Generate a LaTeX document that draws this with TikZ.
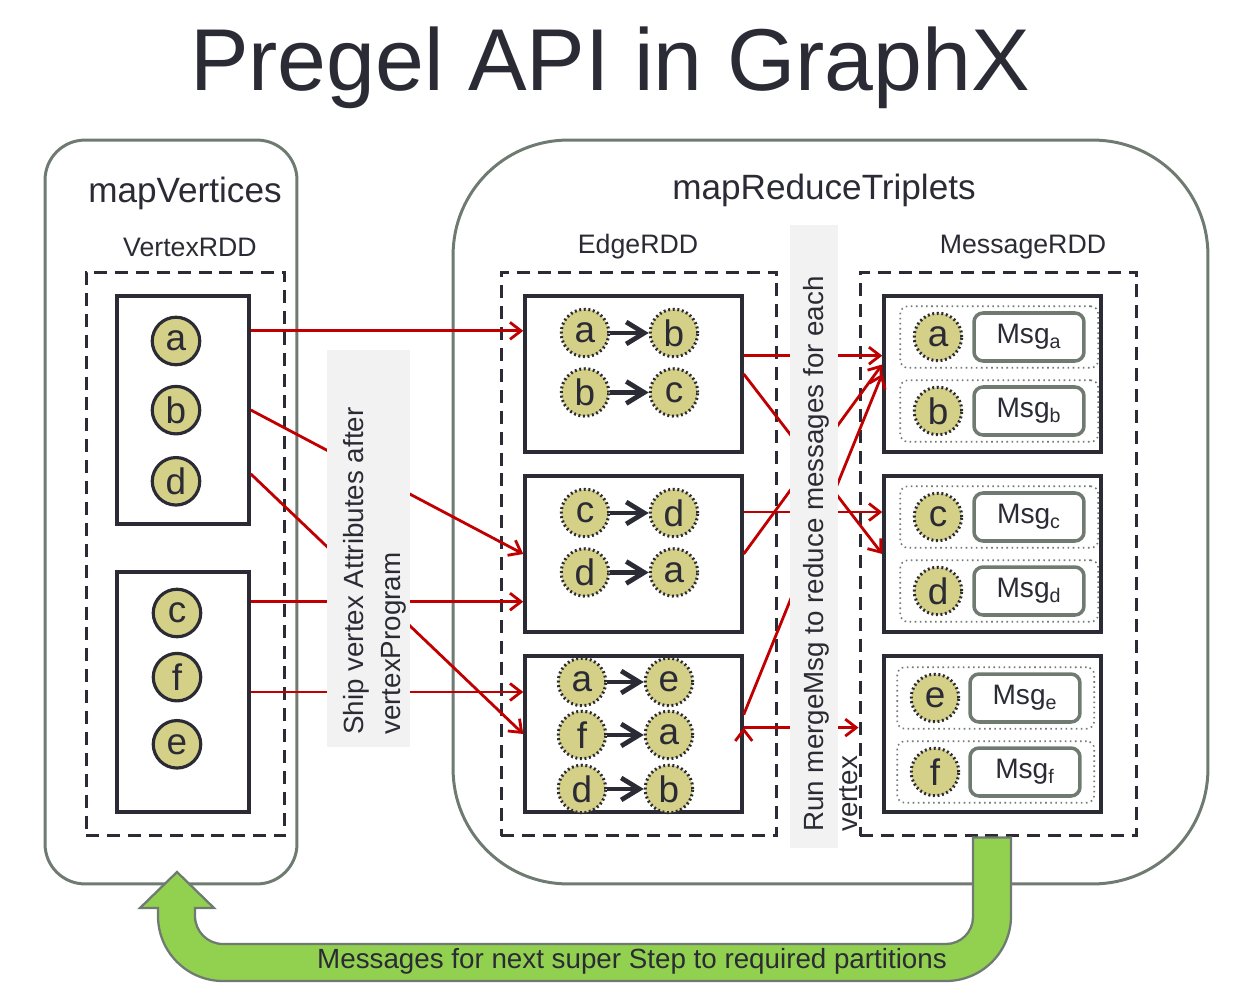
\documentclass[tikz,border=0pt]{standalone}
\usepackage{fontspec}
\setmainfont{Liberation Sans}
\usepackage{xcolor}
\usetikzlibrary{positioning, arrows.meta, calc, fit}

\definecolor{ink}{RGB}{43,43,53}
\definecolor{khaki}{RGB}{212,208,136}
\definecolor{frame}{RGB}{111,123,113}
\definecolor{shipred}{RGB}{192,0,0}
\definecolor{lblgray}{RGB}{242,242,242}
\definecolor{loopgreen}{RGB}{146,208,80}

\tikzset{
  stage/.style={draw=frame, line width=1.7pt, minimum height=14.88cm},
  rdd/.style={draw=ink, line width=1.7pt, dash pattern=on 7.4pt off 4.5pt, minimum height=11.28cm},
  part/.style={draw=ink, line width=2pt, fill=white, minimum width=4.34cm, minimum height=3.12cm},
  vtx/.style={circle, draw=ink, line width=1.8pt, fill=khaki, minimum size=0.95cm, inner sep=0pt, text=ink, font=\fontsize{21}{21}\selectfont},
  dvtx/.style={vtx, line width=1.7pt, dash pattern=on 1.1pt off 1.5pt},
  msg/.style={draw=frame, line width=2pt, rounded corners=0.18cm, minimum width=2.2cm, minimum height=0.96cm, text=ink, font=\fontsize{16}{16}\selectfont},
  msgrow/.style={draw=frame, line width=0.9pt, dotted, rounded corners=0.15cm, inner xsep=0.25cm, inner ysep=0.1cm},
  stagelabel/.style={text=ink, font=\fontsize{20}{24}\selectfont},
  rddlabel/.style={text=ink, font=\fontsize{15.2}{18}\selectfont},
  ship/.style={draw=shipred, line width=1.6pt, -{Straight Barb[length=0.22cm,width=0.34cm]}},
  pair/.style={draw=ink, line width=2.7pt, -{Straight Barb[length=0.36cm,width=0.44cm]}},
  lblbg/.style={fill=lblgray, inner sep=0pt},
  lbl/.style={rotate=90, align=left, inner sep=0pt, text=ink, font=\fontsize{15.8}{21}\selectfont}
}

\begin{document}
\begin{tikzpicture}[x=0.02cm, y=-0.02cm]
\useasboundingbox (0,0) rectangle (1257,1003);

\node[text=ink, font=\fontsize{50}{60}\selectfont] (title) at (610,68) {Pregel API in GraphX};

\node[stage, rounded corners=0.8cm, minimum width=5.04cm] (mv) at (171,512) {};
\node[stage, rounded corners=2.3cm, minimum width=15.1cm] (mrt) at (830.5,512) {};
\node[stagelabel] (mvlabel) at (185,193) {mapVertices};
\node[stagelabel] (mrtlabel) at (824,190) {mapReduceTriplets};

\node[rdd, minimum width=3.98cm] (vrdd) at (185.5,554) {};
\node[rdd, minimum width=5.52cm] (erdd) at (639,554) {};
\node[rdd, minimum width=5.54cm] (mrdd) at (998.5,554) {};
\node[rddlabel] (vrddlabel) at (190,247) {VertexRDD};
\node[rddlabel] (erddlabel) at (638,247) {EdgeRDD};
\node[rddlabel] (mrddlabel) at (1023,247) {MessageRDD};

\node[part, minimum width=2.64cm, minimum height=4.56cm] (vb1) at (183,410) {};
\node[part, minimum width=2.64cm, minimum height=4.8cm] (vb2) at (183,692) {};
\node[part] (eb1) at (633.5,374) {};
\node[part] (eb2) at (633.5,554) {};
\node[part] (eb3) at (633.5,734) {};
\node[part] (mb1) at (992.5,374) {};
\node[part] (mb2) at (992.5,554) {};
\node[part] (mb3) at (992.5,734) {};

\node[vtx] (va) at (176,341) {a};
\node[vtx] (vb) [below=0.37cm of va] {b};
\node[vtx] (vd) [below=0.41cm of vb] {d};
\node[vtx] (vc) at (177,613) {c};
\node[vtx] (vf) [below=0.27cm of vc] {f};
\node[vtx] (ve) [below=0.33cm of vf] {e};

\node[dvtx] (e1a) at (585,333) {a};
\node[dvtx] (e1b) [right=0.77cm of e1a] {b};
\node[dvtx] (e2b) [below=0.18cm of e1a] {b};
\node[dvtx] (e2c) [right=0.77cm of e2b] {c};
\node[dvtx] (e3c) at (585,513) {c};
\node[dvtx] (e3d) [right=0.77cm of e3c] {d};
\node[dvtx] (e4d) [below=0.18cm of e3c] {d};
\node[dvtx] (e4a) [right=0.77cm of e4d] {a};
\node[dvtx] (e5a) at (582,682) {a};
\node[dvtx] (e5e) [right=0.73cm of e5a] {e};
\node[dvtx] (e6f) [below=0.05cm of e5a] {f};
\node[dvtx] (e6a) [right=0.73cm of e6f] {a};
\node[dvtx] (e7d) [below=0.07cm of e6f] {d};
\node[dvtx] (e7b) [right=0.73cm of e7d] {b};

\path[pair]
  (e1a) edge (e1b)
  (e2b) edge (e2c)
  (e3c) edge (e3d)
  (e4d) edge (e4a)
  (e5a) edge (e5e)
  (e6f) edge (e6a)
  (e7d) edge (e7b);

\node[dvtx] (ma) at (938,337) {a};
\node[msg] (mga) [right=0.18cm of ma] {Msg\textsubscript{a}};
\node[msgrow, fit=(ma) (mga)] (ra) {};
\node[dvtx] (mb) at (938,411) {b};
\node[msg] (mgb) [right=0.18cm of mb] {Msg\textsubscript{b}};
\node[msgrow, fit=(mb) (mgb)] (rb) {};
\node[dvtx] (mc) at (938,517) {c};
\node[msg] (mgc) [right=0.18cm of mc] {Msg\textsubscript{c}};
\node[msgrow, fit=(mc) (mgc)] (rc) {};
\node[dvtx] (md) at (938,591) {d};
\node[msg] (mgd) [right=0.18cm of md] {Msg\textsubscript{d}};
\node[msgrow, fit=(md) (mgd)] (rd) {};
\node[dvtx] (me) at (935,698) {e};
\node[msg] (mge) [right=0.16cm of me] {Msg\textsubscript{e}};
\node[msgrow, fit=(me) (mge)] (re) {};
\node[dvtx] (mf) at (935,772) {f};
\node[msg] (mgf) [right=0.16cm of mf] {Msg\textsubscript{f}};
\node[msgrow, fit=(mf) (mgf)] (rf) {};

\coordinate (s1) at ($(vb1.north east)!.158!(vb1.south east)$);
\coordinate (s3) at ($(vb1.north east)!.776!(vb1.south east)$);
\coordinate (s4) at ($(vb2.north east)!.129!(vb2.south east)$);
\coordinate (r1) at ($(eb1.north east)!.385!(eb1.south east)$);
\coordinate (r3) at ($(eb2.north east)!.237!(eb2.south east)$);
\coordinate (r5) at ($(eb3.north east)!.378!(eb3.south east)$);
\coordinate (r6) at ($(eb3.north east)!.46!(eb3.south east)$);
\coordinate (u4) at ($(mb1.north west)!.44!(mb1.south west)$);

\path[ship]
  (s1) edge (s1 -| eb1.west)
  (vb1.east) edge (eb2.west)
  (s3) edge (eb3.west)
  (s4) edge (s4 -| eb2.west)
  (vb2.east) edge (vb2.east -| eb3.west)
  (r1) edge (r1 -| mb1.west)
  (eb1.east) edge (mb2.west)
  (r3) edge (r3 -| mb2.west)
  (eb2.east) edge (u4)
  (r5) edge (mb1.west)
  (r6) edge (r6 -| mrdd.west);

\node[lblbg, minimum width=1.66cm, minimum height=7.94cm] (shipbg) at (368.5,548.5) {};
\node[lbl, anchor=west] (shiplbl) at (375,735) {Ship vertex Attributes after\\vertexProgram};
\node[lblbg, minimum width=0.96cm, minimum height=12.46cm] (mergebg) at (814,536.5) {};
\node[lbl, anchor=west, font=\fontsize{15.8}{19.3}\selectfont] (mergelbl) at (831,832) {Run mergeMsg to reduce messages for each\\vertex};

\draw[fill=loopgreen, draw=frame, line width=1.3pt] (mrdd.south -| 1011,0) -- (1011,916)
  arc[start angle=0, end angle=90, radius=65] -- (223,981)
  arc[start angle=90, end angle=180, radius=65] -- (158,908) -- (140,908) -- (177,872) -- (214,908) -- (195,908) -- (195,916)
  arc[start angle=180, end angle=90, radius=28] -- (946,944)
  arc[start angle=90, end angle=0, radius=27] -- (mrdd.south -| 973,0) -- cycle;
\node[text=ink, font=\fontsize{15.8}{19}\selectfont] (looplbl) at (632,961) {Messages for next super Step to required partitions};
\end{tikzpicture}
\end{document}
